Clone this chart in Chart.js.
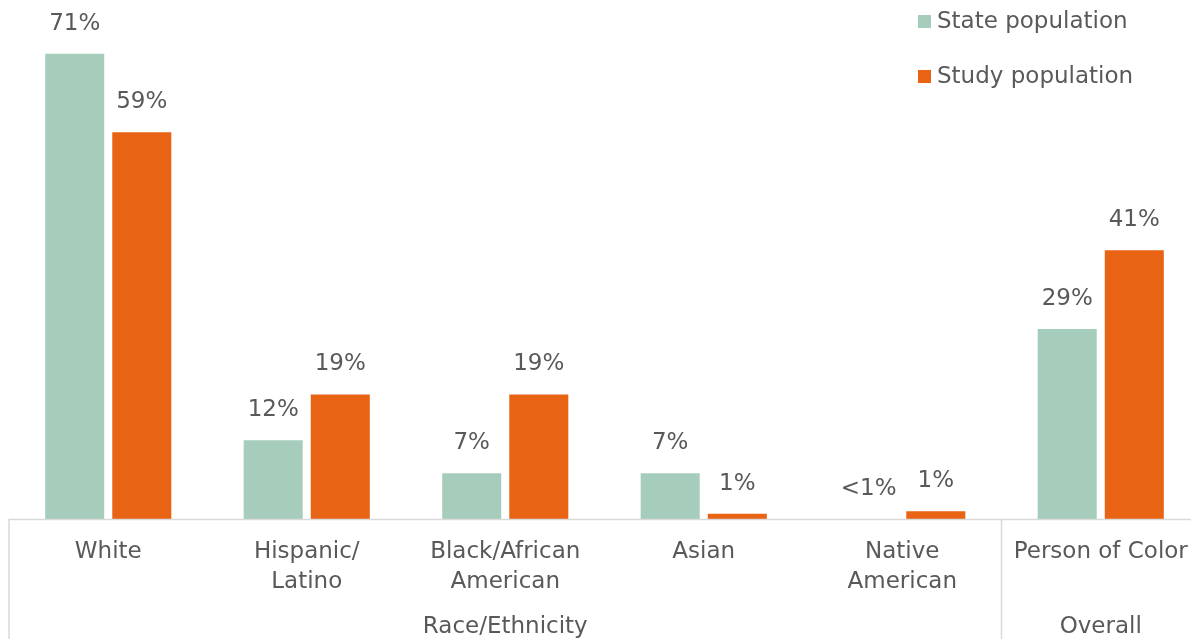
<!DOCTYPE html>
<html>
<head>
<meta charset="utf-8">
<script src="https://cdn.jsdelivr.net/npm/chart.js@4/dist/chart.umd.min.js"></script>
<style>
  html, body { margin: 0; padding: 0; background: #fff; overflow: hidden; }
  #wrap { position: absolute; left: 0; top: 0; width: 1200px; height: 639px; }
</style>
</head>
<body>
<div id="wrap"><canvas id="chart1"></canvas></div>
<script>
// Data
const categories = [["White"], ["Hispanic/", "Latino"], ["Black/African", "American"], ["Asian"], ["Native", "American"], ["Person of Color"]];
const groups = [
    { label: "Race/Ethnicity", from: 0, to: 4 },
    { label: "Overall", from: 5, to: 5 }
];
const seriesNames = ["State population", "Study population"];
const stateValues = [71, 12, 7, 7, 0, 29];
const studyValues = [59, 19, 19, 0.8, 1.2, 41];
const stateLabels = ["71%", "12%", "7%", "7%", "<1%", "29%"];
const studyLabels = ["59%", "19%", "19%", "1%", "1%", "41%"];

const green = "#a6cdbc";
const orange = "#e96315";
const textColor = "#595959";
const lineColor = "#d9d9d9";
const fontFamily = "'DejaVu Sans', sans-serif";
const fontSize = 23;

// Value labels above the bars + grouped axis + legend
const extrasPlugin = {
    id: 'extras',
    afterDatasetsDraw(chart) {
        const ctx = chart.ctx;
        const allLabels = [stateLabels, studyLabels];
        ctx.save();
        ctx.fillStyle = textColor;
        ctx.font = fontSize + "px " + fontFamily;
        ctx.textAlign = 'center';
        ctx.textBaseline = 'middle';
        chart.data.datasets.forEach(function (ds, i) {
            chart.getDatasetMeta(i).data.forEach(function (bar, j) {
                ctx.fillText(allLabels[i][j], bar.x, bar.y - 30);
            });
        });
        ctx.restore();
    },
    afterDraw(chart) {
        const ctx = chart.ctx;
        const area = chart.chartArea;
        const x = chart.scales.x;
        const half = (x.getPixelForValue(1) - x.getPixelForValue(0)) / 2;
        ctx.save();
        ctx.strokeStyle = lineColor;
        ctx.lineWidth = 1.5;
        ctx.beginPath();
        ctx.moveTo(area.left, area.bottom + 0.5);
        ctx.lineTo(area.right, area.bottom + 0.5);
        // group separators
        const seps = [x.getPixelForValue(0) - half, x.getPixelForValue(4) + half];
        seps.forEach(function (sx) {
            ctx.moveTo(sx, area.bottom);
            ctx.lineTo(sx, chart.height);
        });
        ctx.stroke();

        ctx.fillStyle = textColor;
        ctx.font = fontSize + "px " + fontFamily;
        ctx.textAlign = 'center';
        ctx.textBaseline = 'middle';
        groups.forEach(function (g) {
            const cx = (x.getPixelForValue(g.from) - half + x.getPixelForValue(g.to) + half) / 2;
            ctx.fillText(g.label, cx, 627);
        });

        // legend
        const colors = [green, orange];
        ctx.textAlign = 'left';
        seriesNames.forEach(function (name, i) {
            const ly = 22 + i * 55;
            ctx.fillStyle = colors[i];
            ctx.fillRect(918, ly - 7, 13, 13);
            ctx.fillStyle = textColor;
            ctx.fillText(name, 937, ly);
        });
        ctx.restore();
    }
};

const canvas1 = document.getElementById('chart1');
const myChart = new Chart(canvas1, {
    type: 'bar',
    data: {
        labels: categories,
        datasets: [
            {
                label: seriesNames[0],
                data: stateValues,
                backgroundColor: green,
                categoryPercentage: 0.676,
                barPercentage: 0.88
            },
            {
                label: seriesNames[1],
                data: studyValues,
                backgroundColor: orange,
                categoryPercentage: 0.676,
                barPercentage: 0.88
            }
        ]
    },
    options: {
        responsive: true,
        maintainAspectRatio: false,
        animation: false,
        layout: { padding: { left: 9, right: 0, top: 0, bottom: 0 } },
        plugins: {
            legend: { display: false },
            tooltip: { enabled: false }
        },
        scales: {
            x: {
                grid: { display: false },
                border: { display: false },
                ticks: {
                    color: textColor,
                    font: { family: fontFamily, size: fontSize, lineHeight: 1.3 },
                    padding: 10,
                    maxRotation: 0,
                    autoSkip: false
                },
                afterFit: function (scale) { scale.height = 120; }
            },
            y: {
                display: false,
                min: 0,
                max: 79.2
            }
        }
    },
    plugins: [extrasPlugin]
});
</script>
</body>
</html>
